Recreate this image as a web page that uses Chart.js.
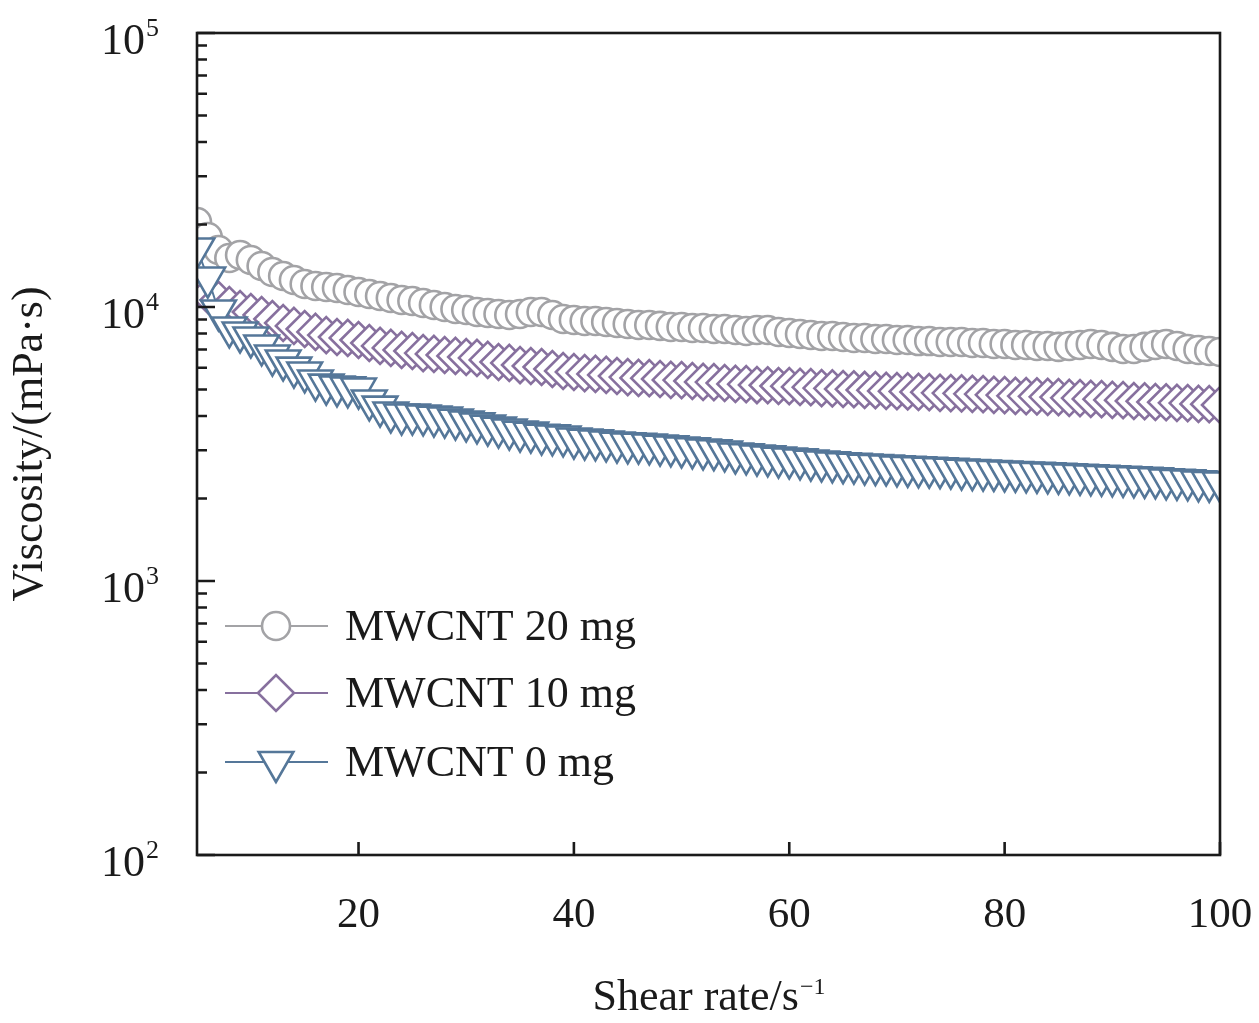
<!DOCTYPE html>
<html>
<head>
<meta charset="utf-8">
<script src="https://cdn.jsdelivr.net/npm/chart.js@4.4.1/dist/chart.umd.min.js"></script>
<style>
  html, body { margin: 0; padding: 0; background: #fff; }
  #wrap { width: 1259px; height: 1023px; position: relative; }
</style>
</head>
<body>
<div id="wrap"><canvas id="chart"></canvas></div>
<script>
const SERIF = "'Liberation Serif', 'Times New Roman', 'DejaVu Serif', serif";
const INK = "#1a1a1a";
const C = {
  gray:   "#a3a3a6",   // MWCNT 20 mg
  purple: "#87709e",   // MWCNT 10 mg
  blue:   "#557799",   // MWCNT 0 mg
};

// shear rate, s^-1
const shearRate = [
  5, 6, 7, 8, 9, 10, 11, 12, 13, 14, 15, 16, 17, 18, 19, 20,
  21, 22, 23, 24, 25, 26, 27, 28, 29, 30, 31, 32, 33, 34, 35, 36,
  37, 38, 39, 40, 41, 42, 43, 44, 45, 46, 47, 48, 49, 50, 51, 52,
  53, 54, 55, 56, 57, 58, 59, 60, 61, 62, 63, 64, 65, 66, 67, 68,
  69, 70, 71, 72, 73, 74, 75, 76, 77, 78, 79, 80, 81, 82, 83, 84,
  85, 86, 87, 88, 89, 90, 91, 92, 93, 94, 95, 96, 97, 98, 99, 100,
];

// viscosity, mPa·s
const visc20 = [
  20430, 18010, 16140, 15090, 15480, 14840, 14110, 13420, 12980, 12550, 12130, 11930, 11830, 11730, 11540, 11340,
  11150, 10970, 10790, 10610, 10520, 10340, 10170, 10000, 9830, 9750, 9590, 9510, 9430, 9350, 9430, 9590,
  9590, 9350, 9040, 8970, 8890, 8890, 8820, 8740, 8670, 8600, 8600, 8530, 8450, 8450, 8380, 8380,
  8310, 8310, 8240, 8170, 8240, 8240, 8110, 8040, 7970, 7900, 7840, 7840, 7770, 7710, 7710, 7640,
  7640, 7580, 7580, 7510, 7510, 7450, 7450, 7450, 7390, 7390, 7330, 7330, 7270, 7270, 7210, 7210,
  7150, 7210, 7270, 7330, 7270, 7150, 7030, 7030, 7150, 7270, 7330, 7210, 7030, 6970, 6910, 6850,
];
const visc10 = [
  11730, 11060, 10610, 10170, 9830, 9590, 9350, 9040, 8740, 8530, 8310, 8110, 7900, 7770, 7710, 7580,
  7390, 7210, 7090, 6970, 6910, 6790, 6740, 6680, 6630, 6570, 6520, 6410, 6300, 6250, 6140, 6090,
  6040, 5940, 5840, 5790, 5740, 5700, 5650, 5600, 5550, 5510, 5500, 5460, 5420, 5410, 5370, 5330,
  5320, 5280, 5240, 5230, 5190, 5180, 5150, 5140, 5110, 5100, 5060, 5050, 5020, 5010, 4980, 4970,
  4940, 4930, 4920, 4900, 4890, 4860, 4850, 4840, 4820, 4810, 4780, 4770, 4740, 4730, 4720, 4700,
  4690, 4660, 4650, 4620, 4610, 4580, 4570, 4540, 4530, 4500, 4490, 4470, 4460, 4430, 4420, 4390,
];
const visc0 = [
  16350, 12810, 9710, 8420, 8070, 7740, 7240, 6650, 6380, 6010, 5770, 5390, 5210, 5130, 5090, 5040,
  4560, 4330, 4120, 4050, 4050, 4020, 3980, 3950, 3880, 3820, 3760, 3690, 3630, 3570, 3510, 3480,
  3420, 3400, 3370, 3310, 3280, 3260, 3230, 3200, 3180, 3170, 3150, 3120, 3100, 3070, 3050, 3020,
  3000, 2970, 2920, 2900, 2870, 2850, 2820, 2800, 2780, 2750, 2730, 2710, 2690, 2680, 2660, 2650,
  2640, 2620, 2610, 2600, 2590, 2580, 2570, 2550, 2540, 2530, 2520, 2510, 2500, 2490, 2480, 2470,
  2460, 2450, 2440, 2430, 2420, 2410, 2400, 2390, 2380, 2370, 2350, 2340, 2330, 2310, 2300, 2290,
];

const xTicks = [20, 40, 60, 80, 100];
const yTicks = [100, 1000, 10000, 100000];
const yTickExp = ["2", "3", "4", "5"];
const minorSteps = [2, 3, 4, 5, 6, 7, 8, 9];

// marker looks (Origin style: hollow, white filled)
const MARK = {
  m20: { pointStyle: "circle",  radius: 14, rotation: 0 },
  m10: { pointStyle: "rectRot", radius: 18, rotation: 0 },
  m0:  { pointStyle: "triangle", radius: 20, rotation: 180 },
};
const MARK_LW = 2.6;

function series(label, values, color, mark) {
  return {
    label,
    data: shearRate.map((x, i) => ({ x, y: values[i] })),
    borderColor: color,
    backgroundColor: "#fff",
    borderWidth: 2,
    tension: 0,
    fill: false,
    pointStyle: mark.pointStyle,
    pointRadius: mark.radius,
    pointHoverRadius: mark.radius,
    pointRotation: mark.rotation,
    pointBorderWidth: MARK_LW,
    pointBorderColor: color,
    pointBackgroundColor: "#fff",
  };
}

function drawMark(ctx, mark, color, x, y) {
  ctx.save();
  ctx.fillStyle = "#fff";
  ctx.strokeStyle = color;
  ctx.lineWidth = MARK_LW;
  Chart.helpers.drawPoint(ctx, { pointStyle: mark.pointStyle, radius: mark.radius, rotation: mark.rotation, borderWidth: MARK_LW }, x, y);
  ctx.restore();
}

// frame, inward ticks, tick labels, axis titles
const axesPlugin = {
  id: "axes",
  afterDraw(chart) {
    const { ctx, chartArea: a, scales: { x, y } } = chart;
    ctx.save();
    ctx.strokeStyle = INK;
    ctx.lineWidth = 2.6;
    ctx.strokeRect(a.left, a.top, a.right - a.left, a.bottom - a.top);

    ctx.beginPath();
    for (const v of xTicks) {
      const px = x.getPixelForValue(v);
      ctx.moveTo(px, a.bottom);
      ctx.lineTo(px, a.bottom - 13);
    }
    for (const v of yTicks) {
      const py = y.getPixelForValue(v);
      ctx.moveTo(a.left, py);
      ctx.lineTo(a.left + 18, py);
    }
    for (let i = 0; i < yTicks.length - 1; i++) {
      for (const m of minorSteps) {
        const py = y.getPixelForValue(yTicks[i] * m);
        ctx.moveTo(a.left, py);
        ctx.lineTo(a.left + 10, py);
      }
    }
    ctx.stroke();

    ctx.fillStyle = INK;
    ctx.textBaseline = "alphabetic";

    // x tick labels
    ctx.font = `43px ${SERIF}`;
    ctx.textAlign = "center";
    for (const v of xTicks) ctx.fillText(String(v), x.getPixelForValue(v), a.bottom + 72);

    // y tick labels 10^n
    ctx.textAlign = "left";
    yTicks.forEach((v, i) => {
      const py = y.getPixelForValue(v);
      ctx.font = `44px ${SERIF}`;
      ctx.fillText("10", 101, py + 21);
      const w = ctx.measureText("10").width;
      ctx.font = `26px ${SERIF}`;
      ctx.fillText(yTickExp[i], 101 + w + 1, py + 3);
    });

    // x title
    const cx = (a.left + a.right) / 2;
    ctx.font = `44px ${SERIF}`;
    const main = "Shear rate/s";
    const w1 = ctx.measureText(main).width;
    ctx.font = `24px ${SERIF}`;
    const w2 = ctx.measureText("\u22121").width;
    const x0 = cx - (w1 + w2) / 2;
    ctx.font = `44px ${SERIF}`;
    ctx.fillText(main, x0, 1010);
    ctx.font = `24px ${SERIF}`;
    ctx.fillText("\u22121", x0 + w1 + 1, 994);

    // y title
    ctx.save();
    ctx.translate(42, (a.top + a.bottom) / 2);
    ctx.rotate(-Math.PI / 2);
    ctx.textAlign = "center";
    ctx.font = `44px ${SERIF}`;
    ctx.fillText("Viscosity/(mPa\u00b7s)", 0, 0);
    ctx.restore();

    ctx.restore();
  },
};

// legend inside the plot, lower left
const legendPlugin = {
  id: "insideLegend",
  afterDatasetsDraw(chart) {
    const { ctx } = chart;
    const rows = [
      { text: "MWCNT 20 mg", color: C.gray,   mark: MARK.m20, y: 626 },
      { text: "MWCNT 10 mg", color: C.purple, mark: MARK.m10, y: 693 },
      { text: "MWCNT 0 mg",  color: C.blue,   mark: MARK.m0,  y: 762 },
    ];
    ctx.save();
    for (const r of rows) {
      ctx.strokeStyle = r.color;
      ctx.lineWidth = 2.2;
      ctx.beginPath();
      ctx.moveTo(225, r.y);
      ctx.lineTo(328, r.y);
      ctx.stroke();
      drawMark(ctx, r.mark, r.color, 276, r.y);
      ctx.fillStyle = INK;
      ctx.font = `44px ${SERIF}`;
      ctx.textAlign = "left";
      ctx.textBaseline = "alphabetic";
      ctx.fillText(r.text, 345, r.y + 14);
    }
    ctx.restore();
  },
};

new Chart(document.getElementById("chart"), {
  type: "line",
  data: {
    // index 0 is painted last, so the triangles sit on top
    datasets: [
      series("MWCNT 0 mg", visc0, C.blue, MARK.m0),
      series("MWCNT 10 mg", visc10, C.purple, MARK.m10),
      series("MWCNT 20 mg", visc20, C.gray, MARK.m20),
    ],
  },
  options: {
    responsive: true,
    maintainAspectRatio: false,
    devicePixelRatio: 1,
    animation: false,
    events: [],
    layout: { padding: { top: 33, right: 39, left: 0, bottom: 0 } },
    plugins: { legend: { display: false }, tooltip: { enabled: false } },
    scales: {
      x: {
        type: "linear", min: 5, max: 100,
        grid: { display: false }, border: { display: false },
        ticks: { display: false },
        afterFit: (s) => { s.height = 168; },
      },
      y: {
        type: "logarithmic", min: 100, max: 100000,
        grid: { display: false }, border: { display: false },
        ticks: { display: false },
        afterFit: (s) => { s.width = 197; },
      },
    },
  },
  plugins: [axesPlugin, legendPlugin],
});
</script>
</body>
</html>
